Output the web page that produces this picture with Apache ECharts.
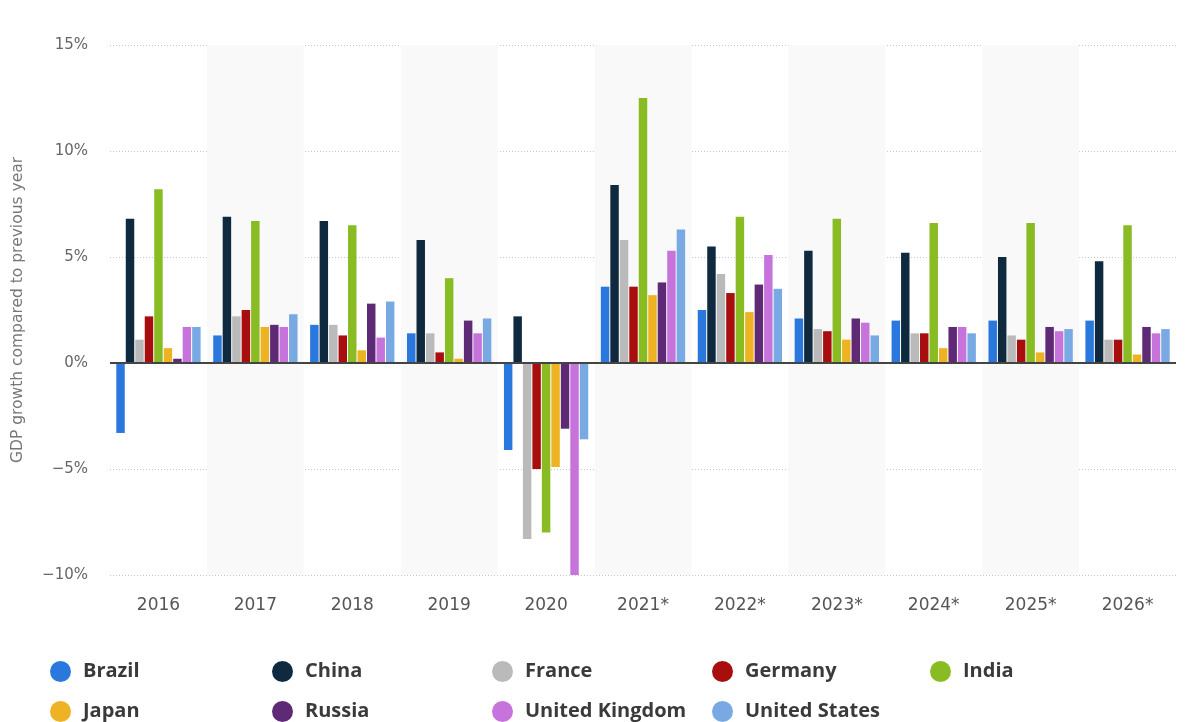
<!DOCTYPE html>
<html>
<head>
<meta charset="utf-8">
<script src="https://cdn.jsdelivr.net/npm/echarts@6/dist/echarts.min.js"></script>
<style>
  html, body { margin: 0; padding: 0; background: #fff; }
  #main { width: 1186px; height: 722px; }
</style>
</head>
<body>
<div id="main"></div>
<script>
// years on the x axis
var years = ['2016', '2017', '2018', '2019', '2020', '2021*', '2022*', '2023*', '2024*', '2025*', '2026*'];
var yTicks = [-10, -5, 0, 5, 10, 15];

// GDP growth in %
var brazil  = [-3.3, 1.3, 1.8, 1.4, -4.1, 3.6, 2.5, 2.1, 2.0, 2.0, 2.0];
var china   = [6.8, 6.9, 6.7, 5.8, 2.2, 8.4, 5.5, 5.3, 5.2, 5.0, 4.8];
var france  = [1.1, 2.2, 1.8, 1.4, -8.3, 5.8, 4.2, 1.6, 1.4, 1.3, 1.1];
var germany = [2.2, 2.5, 1.3, 0.5, -5.0, 3.6, 3.3, 1.5, 1.4, 1.1, 1.1];
var india   = [8.2, 6.7, 6.5, 4.0, -8.0, 12.5, 6.9, 6.8, 6.6, 6.6, 6.5];
var japan   = [0.7, 1.7, 0.6, 0.2, -4.9, 3.2, 2.4, 1.1, 0.7, 0.5, 0.4];
var russia  = [0.2, 1.8, 2.8, 2.0, -3.1, 3.8, 3.7, 2.1, 1.7, 1.7, 1.7];
var uk      = [1.7, 1.7, 1.2, 1.4, -10.0, 5.3, 5.1, 1.9, 1.7, 1.5, 1.4];
var us      = [1.7, 2.3, 2.9, 2.1, -3.6, 6.3, 3.5, 1.3, 1.4, 1.6, 1.6];

var names  = ['Brazil', 'China', 'France', 'Germany', 'India', 'Japan', 'Russia', 'United Kingdom', 'United States'];
var values = [brazil, china, france, germany, india, japan, russia, uk, us];
var colors = ['#2a78de', '#0f2a3f', '#bababa', '#a80e0e', '#89bb23', '#edb322', '#5e2975', '#c674dc', '#78a9e3'];

var myChart = echarts.init(document.getElementById('main'));

var series = names.map(function (n, i) {
  var s = {
    name: n,
    type: 'bar',
    data: values[i],
    barGap: '12%',
    barCategoryGap: '13%',
    itemStyle: { color: colors[i] }
  };
  if (i === 0) {
    // zero line
    s.markLine = {
      silent: true,
      symbol: 'none',
      label: { show: false },
      lineStyle: { color: '#444', type: 'solid', width: 2 },
      data: [{ yAxis: 0 }]
    };
  }
  return s;
});

// one legend per item: 5 columns, 2 rows
var colLeft = [50, 272, 492, 712, 930];
var rowTop = [661, 701];
var legends = names.map(function (n, i) {
  return {
    left: colLeft[i % 5],
    top: rowTop[Math.floor(i / 5)],
    padding: 0,
    itemWidth: 21,
    itemHeight: 21,
    icon: 'circle',
    selectedMode: false,
    data: [n],
    textStyle: { fontFamily: 'Open Sans', fontWeight: 'bold', fontSize: 20, color: '#3a3a3a', padding: [0, 0, 0, 7] }
  };
});

var option = {
  animation: false,
  color: colors,
  legend: legends,
  grid: { left: 110, right: 10, top: 45, bottom: 147 },
  xAxis: {
    type: 'category',
    data: years,
    axisLine: { show: false },
    axisTick: { show: false },
    axisLabel: { color: '#555', fontSize: 17, fontFamily: 'DejaVu Sans', margin: 22 },
    splitArea: { show: true, areaStyle: { color: ['rgba(255,255,255,0)', '#f9f9f9'] } }
  },
  yAxis: {
    type: 'value',
    min: yTicks[0],
    max: yTicks[yTicks.length - 1],
    interval: 5,
    name: 'GDP growth compared to previous year',
    nameLocation: 'middle',
    nameGap: 84,
    nameTextStyle: { color: '#777', fontSize: 15.5, fontFamily: 'DejaVu Sans' },
    axisLine: { show: false },
    axisTick: { show: false },
    axisLabel: {
      color: '#666',
      fontSize: 15,
      fontFamily: 'DejaVu Sans',
      margin: 22,
      formatter: function (v) { return (v < 0 ? '\u2212' + Math.abs(v) : v) + '%'; }
    },
    splitLine: { lineStyle: { color: '#c8c8c8', type: [1, 2], width: 1 } }
  },
  series: series
};

myChart.setOption(option);
window.onresize = function () {
  myChart.resize();
};
</script>
</body>
</html>
